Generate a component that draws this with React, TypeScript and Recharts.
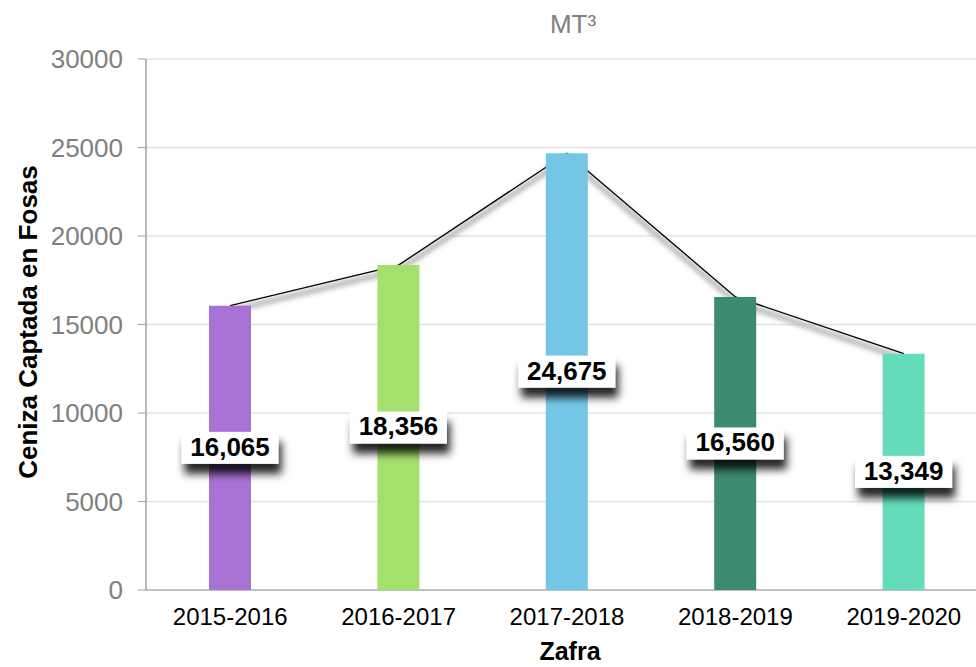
import React from 'react';
import { ComposedChart, Bar, Line, XAxis, YAxis, CartesianGrid, LabelList, Cell } from 'recharts';

const zafras = ['2015-2016', '2016-2017', '2017-2018', '2018-2019', '2019-2020'];
const ceniza = [16065, 18356, 24675, 16560, 13349];
const barColors = ['#A872D4', '#A4E06C', '#74C6E7', '#3D8B6F', '#64DBBA'];
const yTicks = [0, 5000, 10000, 15000, 20000, 25000, 30000];

const data = zafras.map((z, i) => ({ zafra: z, ceniza: ceniza[i] }));

function BoxLabel(props: any) {
  const { x, y, width, height, value } = props;
  const cx = x + width / 2;
  const cy = y + height / 2;
  const w = 97;
  const h = 32;
  return (
    <g>
      <rect x={cx - w / 2} y={cy - h / 2} width={w} height={h} fill="#fff" filter="url(#boxShadow)" />
      <text
        x={cx}
        y={cy + 1}
        textAnchor="middle"
        dominantBaseline="middle"
        fontFamily="'Liberation Sans', Arial, sans-serif"
        fontWeight="bold"
        fontSize={26}
        fill="#000"
      >
        {Number(value).toLocaleString('en-US')}
      </text>
    </g>
  );
}

const W = 990;
const H = 667;

export default function App() {
  return (
    <div style={{ position: 'fixed', left: 0, top: 0, width: 976, height: 667, overflow: 'hidden', background: '#fff', fontFamily: "'Liberation Sans', Arial, sans-serif" }}>
      <div style={{ position: 'absolute', left: 0, width: 1146, top: 9, textAlign: 'center', fontSize: 26, color: '#808080' }}>MT³</div>
      <div
        style={{
          position: 'absolute',
          left: 28,
          top: 322,
          transform: 'translate(-50%, -50%) rotate(-90deg)',
          whiteSpace: 'nowrap',
          fontSize: 26,
          fontWeight: 'bold',
          color: '#000',
        }}
      >
        Ceniza Captada en Fosas
      </div>
      <div style={{ position: 'absolute', left: 0, width: 1140, top: 637, lineHeight: '28px', textAlign: 'center', fontSize: 25, fontWeight: 'bold', color: '#000' }}>
        Zafra
      </div>
      <div style={{ position: 'absolute', left: 0, top: 0 }}>
        <ComposedChart width={W} height={H} data={data} margin={{ top: 59, right: 2, bottom: 0, left: 0 }}>
          <defs>
            <filter id="lineShadow" x="-10%" y="-20%" width="120%" height="140%">
              <feOffset dx={0} dy={5} />
              <feGaussianBlur stdDeviation={2.5} />
            </filter>
          </defs>
          <CartesianGrid vertical={false} stroke="#e3e3e3" strokeWidth={1.5} />
          <XAxis
            dataKey="zafra"
            height={77}
            tickLine={false}
            tickSize={0}
            tickMargin={18}
            axisLine={{ stroke: '#c0c0c0', strokeWidth: 2 }}
            tick={{ fill: '#000', fontSize: 24 }}
          />
          <YAxis
            width={146}
            domain={[0, 30000]}
            ticks={yTicks}
            interval={0}
            tickSize={8}
            tickMargin={15}
            tickLine={{ stroke: '#a0a0a0' }}
            axisLine={{ stroke: '#a0a0a0', strokeWidth: 1.5 }}
            tick={{ fill: '#808080', fontSize: 26 }}
          />
          <Bar dataKey="ceniza" barSize={42} fill="transparent" isAnimationActive={false} />
          <Line
            dataKey="ceniza"
            stroke="#b0b0b0"
            strokeWidth={5}
            dot={false}
            filter="url(#lineShadow)"
            isAnimationActive={false}
          />
          <Line dataKey="ceniza" stroke="#000" strokeWidth={1.3} dot={false} isAnimationActive={false} />
        </ComposedChart>
      </div>
      <div style={{ position: 'absolute', left: 0, top: 0 }}>
        <ComposedChart width={W} height={H} data={data} margin={{ top: 59, right: 2, bottom: 77, left: 146 }}>
          <defs>
            <filter id="boxShadow" x="-30%" y="-50%" width="160%" height="220%">
              <feDropShadow dx={3} dy={10} stdDeviation={4.5} floodColor="#000" floodOpacity={0.85} />
            </filter>
          </defs>
          <XAxis dataKey="zafra" hide />
          <YAxis domain={[0, 30000]} hide />
          <Bar dataKey="ceniza" barSize={42} isAnimationActive={false}>
            {data.map((d, i) => (
              <Cell key={d.zafra} fill={barColors[i]} />
            ))}
            <LabelList dataKey="ceniza" content={BoxLabel} />
          </Bar>
        </ComposedChart>
      </div>
    </div>
  );
}
